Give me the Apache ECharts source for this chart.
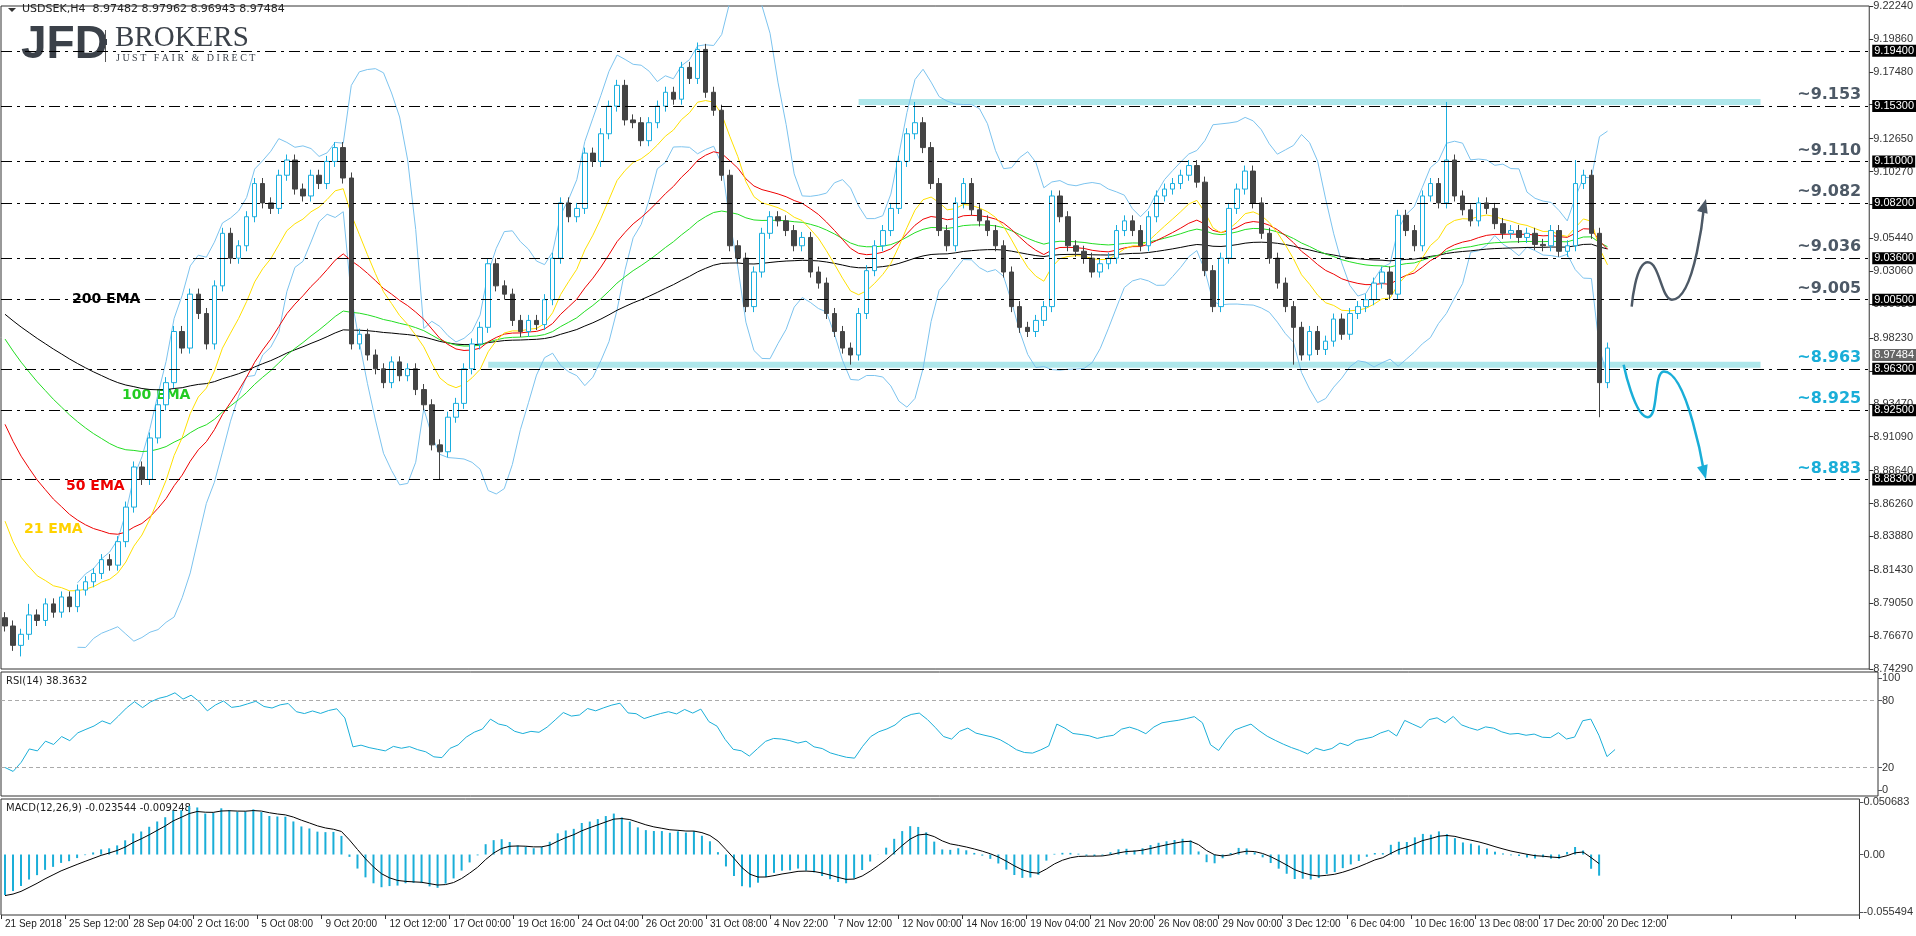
<!DOCTYPE html>
<html><head><meta charset="utf-8">
<script src="https://cdn.jsdelivr.net/npm/echarts@6/dist/echarts.min.js"></script>
<style>html,body{margin:0;padding:0;background:#fff}#c{width:1916px;height:936px}</style>
</head><body><div id="c"></div>
<script>
// ---------- DATA ----------
const xTickLabels = ["21 Sep 2018","25 Sep 12:00","28 Sep 04:00","2 Oct 16:00","5 Oct 08:00","9 Oct 20:00","12 Oct 12:00","17 Oct 00:00","19 Oct 16:00","24 Oct 04:00","26 Oct 20:00","31 Oct 08:00","4 Nov 22:00","7 Nov 12:00","12 Nov 00:00","14 Nov 16:00","19 Nov 04:00","21 Nov 20:00","26 Nov 08:00","29 Nov 00:00","3 Dec 12:00","6 Dec 04:00","10 Dec 16:00","13 Dec 08:00","17 Dec 20:00","20 Dec 12:00"];
const priceTicks = [9.2224,9.1986,9.1748,9.151,9.1265,9.1027,9.0789,9.0544,9.0306,9.0068,8.9823,8.9585,8.9347,8.9109,8.8864,8.8626,8.8388,8.8143,8.7905,8.7667,8.7429];
const closes = [
8.774,8.760,8.768,8.782,8.778,8.790,8.784,8.795,8.788,8.800,
8.806,8.812,8.822,8.818,8.835,8.860,8.889,8.880,8.910,8.934,
8.950,8.987,8.975,9.014,9.000,8.978,9.020,9.058,9.040,9.049,
9.070,9.094,9.080,9.076,9.100,9.111,9.090,9.085,9.100,9.094,
9.110,9.120,9.098,8.978,8.985,8.970,8.960,8.950,8.965,8.955,
8.960,8.945,8.934,8.905,8.900,8.925,8.935,8.960,8.978,8.990,
9.036,9.020,9.014,8.995,8.987,8.995,8.992,9.010,9.040,9.080,
9.070,9.076,9.116,9.110,9.130,9.150,9.165,9.140,9.138,9.125,
9.138,9.150,9.160,9.155,9.178,9.170,9.191,9.160,9.147,9.100,
9.049,9.040,9.005,9.030,9.058,9.070,9.067,9.060,9.049,9.055,
9.030,9.022,9.000,8.987,8.975,8.970,9.000,9.031,9.049,9.060,
9.076,9.110,9.130,9.138,9.120,9.094,9.060,9.049,9.080,9.094,
9.075,9.067,9.060,9.049,9.030,9.005,8.990,8.987,8.995,9.005,
9.085,9.070,9.049,9.045,9.040,9.030,9.036,9.040,9.060,9.067,
9.060,9.049,9.070,9.085,9.090,9.094,9.100,9.107,9.095,9.031,
9.005,9.040,9.076,9.090,9.103,9.080,9.058,9.040,9.022,9.005,
8.990,8.970,8.987,8.974,8.980,8.996,8.985,9.000,9.005,9.010,
9.022,9.030,9.014,9.071,9.060,9.049,9.085,9.094,9.080,9.111,
9.085,9.075,9.067,9.080,9.076,9.065,9.058,9.060,9.055,9.058,
9.050,9.049,9.060,9.045,9.049,9.094,9.100,9.058,8.950,8.975];
const firstOpen = 8.780;
const highSpikes = {3:8.790,42:9.124,86:9.196,113:9.153,179:9.153,195:9.111};
const lowSpikes = {2:8.752,54:8.880,105:8.963,160:8.963,198:8.925};
const emaSeeds = {e21:8.865,e50:8.932,e100:8.990,e200:9.004};
const macdSeeds = {fast:8.772,slow:8.818,signal:-0.040};
const rsiSeeds = {gain:0.0012,loss:0.0048};
const levels = [9.194,9.153,9.110,9.082,9.036,9.005,8.963,8.925,8.883];
const annotated = [{v:9.153,t:"~9.153",c:"#4d5966"},{v:9.110,t:"~9.110",c:"#4d5966"},{v:9.082,t:"~9.082",c:"#4d5966"},{v:9.036,t:"~9.036",c:"#4d5966"},{v:9.005,t:"~9.005",c:"#4d5966"},{v:8.963,t:"~8.963",c:"#1aaed8"},{v:8.925,t:"~8.925",c:"#1aaed8"},{v:8.883,t:"~8.883",c:"#1aaed8"}];
const lastPrice = 8.97484;
const bands = [{from:106,to:218,v:9.153},{from:60,to:218,v:8.963}];
const upArrow = [[202,9.005],[204,9.037],[207,9.010],[211,9.078]];
const downArrow = [[201,8.963],[204,8.925],[206,8.958],[211,8.885]];
const nCats = 232;

// ---------- derived ----------
const cats = Array.from({length:nCats},(_,i)=>i);
const ohlc = closes.map((c,i)=>{
  const o = i===0?firstOpen:closes[i-1];
  let hi = Math.max(o,c)+0.004, lo = Math.min(o,c)-0.004;
  if (highSpikes[i]!==undefined) hi = highSpikes[i];
  if (lowSpikes[i]!==undefined) lo = lowSpikes[i];
  return [o,c,lo,hi];
});
function ema(arr,p,seed){const k=2/(p+1);let e=seed;return arr.map(v=>{e=v*k+e*(1-k);return +e.toFixed(6);});}
const ema21=ema(closes,11,emaSeeds.e21), ema50=ema(closes,25,emaSeeds.e50), ema100=ema(closes,50,emaSeeds.e100), ema200=ema(closes,100,emaSeeds.e200);
const bbU=[],bbL=[];
closes.forEach((c,i)=>{if(i<9){bbU.push(null);bbL.push(null);return;}
  const s=closes.slice(i-9,i+1);const m=s.reduce((a,b)=>a+b)/10;const sd=Math.sqrt(s.reduce((a,b)=>a+(b-m)*(b-m),0)/10);
  bbU.push(+(m+2*sd).toFixed(5));bbL.push(+(m-2*sd).toFixed(5));});
const rsi=[];{let ag=rsiSeeds.gain,al=rsiSeeds.loss;const p=12;for(let i=0;i<closes.length;i++){
  if(i>0){const d=closes[i]-closes[i-1];ag=(ag*(p-1)+Math.max(d,0))/p;al=(al*(p-1)+Math.max(-d,0))/p;}
  rsi.push(+(100-100/(1+ag/al)).toFixed(2));}}
const ef=ema(closes,6,macdSeeds.fast), es=ema(closes,13,macdSeeds.slow);
const macd=closes.map((c,i)=>+(ef[i]-es[i]).toFixed(6));
const sig=ema(macd,5,macdSeeds.signal);

const FONT='DejaVu Sans', LF='Liberation Sans';
const axisBase = (gi,show)=>({type:'category',gridIndex:gi,data:cats,boundaryGap:true,
  axisLine:{show:false,onZero:false},axisTick:{show:show,interval:i=>i%8===0,length:4,lineStyle:{color:'#333'}},
  axisLabel:{show:show,interval:i=>i%8===0,formatter:(v)=>xTickLabels[v/8]||'',align:'left',margin:4,fontSize:10,color:'#222',fontFamily:LF},splitLine:{show:false}});
const gridBase={left:1,right:38,show:true,borderColor:'#333',borderWidth:1};
const boxLabel=(txt,bg)=>({show:true,position:'end',formatter:txt,backgroundColor:bg,color:'#fff',padding:[1,2,0,2],fontSize:11,fontFamily:LF,distance:3});

const lvlData=[];
levels.forEach(v=>lvlData.push({yAxis:v,lineStyle:{color:'#000',type:[11,5,3,5],width:1},label:boxLabel(v.toFixed(5),'#000')}));
annotated.forEach(a=>lvlData.push({yAxis:a.v,lineStyle:{color:'rgba(0,0,0,0)',width:1},
  label:{show:true,position:'insideEndTop',formatter:a.t,color:a.c,fontSize:16,fontWeight:'bold',fontFamily:FONT,distance:[8,3]}}));
lvlData.push({yAxis:lastPrice,lineStyle:{color:'rgba(0,0,0,0)',width:1},label:boxLabel(lastPrice.toFixed(5),'#666')});

const arrowSeries=(pts,color,rot)=>({type:'line',xAxisIndex:0,yAxisIndex:0,data:pts,smooth:0.6,showSymbol:true,showAllSymbol:true,
  lineStyle:{color:color,width:2.5},symbol:(v,p)=>p.dataIndex===pts.length-1?'triangle':'none',symbolSize:[11,14],symbolRotate:rot,itemStyle:{color:color},silent:true,z:5});

const option={
  animation:false,
  grid:[{...gridBase,top:6,height:663},{...gridBase,top:672,height:124},{...gridBase,top:799,height:116}],
  xAxis:[axisBase(0,false),axisBase(1,false),axisBase(2,true)],
  yAxis:[
    {type:'value',gridIndex:0,position:'right',min:8.7429,max:9.2224,scale:true,splitLine:{show:false},axisLine:{show:false},
     axisTick:{show:true,customValues:priceTicks,length:4,lineStyle:{color:'#333'}},
     axisLabel:{customValues:priceTicks,formatter:v=>v.toFixed(5),fontSize:11,color:'#333',margin:4,fontFamily:LF}},
    {type:'value',gridIndex:1,position:'right',min:-5.5,max:105.5,splitLine:{show:false},axisLine:{show:false},
     axisTick:{show:true,customValues:[0,20,80,100],length:4},axisLabel:{customValues:[0,20,80,100],fontSize:11,color:'#333',margin:4,fontFamily:LF}},
    {type:'value',gridIndex:2,position:'right',min:-0.0585,max:0.0537,splitLine:{show:false},axisLine:{show:false},
     axisTick:{show:true,customValues:[-0.055494,0,0.050683],length:4},
     axisLabel:{customValues:[-0.055494,0,0.050683],formatter:v=>v===0?'0.00':v.toFixed(6),fontSize:11,color:'#333',margin:4,fontFamily:LF}}
  ],
  series:[
    {type:'line',data:bbU,symbol:'none',lineStyle:{color:'#7cc3ee',width:1},z:1},
    {type:'line',data:bbL,symbol:'none',lineStyle:{color:'#7cc3ee',width:1},z:1},
    {type:'line',data:ema200,symbol:'none',lineStyle:{color:'#000',width:1},z:2},
    {type:'line',data:ema100,symbol:'none',lineStyle:{color:'#22dd22',width:1},z:2},
    {type:'line',data:ema50,symbol:'none',lineStyle:{color:'#ee0000',width:1},z:2},
    {type:'line',data:ema21,symbol:'none',lineStyle:{color:'#ffe000',width:1},z:2},
    {type:'candlestick',data:ohlc,barWidth:5,z:3,
     itemStyle:{color:'#ffffff',color0:'#444',borderColor:'#1aaedf',borderColor0:'#444',borderWidth:1},
     markLine:{symbol:'none',silent:true,animation:false,data:lvlData},
     markArea:{silent:true,itemStyle:{color:'rgba(120,215,222,0.6)'},data:bands.map(b=>[{xAxis:b.from,yAxis:b.v-0.0022},{xAxis:b.to,yAxis:b.v+0.0022}])}},
    arrowSeries(upArrow,'#4d5966',-15),
    arrowSeries(downArrow,'#1aaed8',195),
    {type:'line',xAxisIndex:1,yAxisIndex:1,data:rsi,symbol:'none',lineStyle:{color:'#1aaed8',width:1},
     markLine:{symbol:'none',silent:true,label:{show:false},lineStyle:{color:'#aaa',type:[4,3],width:1},data:[{yAxis:80},{yAxis:20}]}},
    {type:'bar',xAxisIndex:2,yAxisIndex:2,data:macd,barWidth:2,itemStyle:{color:'#1aaed8'}},
    {type:'line',xAxisIndex:2,yAxisIndex:2,data:sig,symbol:'none',lineStyle:{color:'#000',width:1}}
  ],
  graphic:[
    {type:'polygon',shape:{points:[[8,8],[16,8],[12,12]]},style:{fill:'#333'}},
    {type:'text',left:22,top:4,style:{text:'USDSEK,H4  8.97482 8.97962 8.96943 8.97484',fontSize:11,fill:'#222',fontFamily:FONT}},
    {type:'text',left:21,top:22,style:{text:'JFD',fontSize:46,fontWeight:'bold',fill:'#3b4149',fontFamily:LF}},
    {type:'rect',shape:{x:105,y:30,width:1,height:32},style:{fill:'#555'}},
    {type:'rect',shape:{x:104,y:39,width:3,height:6},style:{fill:'#3b4149'}},
    {type:'text',left:115,top:24,style:{text:'BROKERS',fontSize:29,fill:'#3b4149',fontFamily:'Liberation Serif'}},
    {type:'text',left:116,top:53,style:{text:'J U S T   F A I R   &   D I R E C T',fontSize:10,fill:'#3b4149',fontFamily:'Liberation Serif'}},
    {type:'text',left:72,top:292,style:{text:'200 EMA',fontSize:14,fontWeight:'bold',fill:'#000',fontFamily:FONT}},
    {type:'text',left:122,top:388,style:{text:'100 EMA',fontSize:14,fontWeight:'bold',fill:'#22cc22',fontFamily:FONT}},
    {type:'text',left:66,top:479,style:{text:'50 EMA',fontSize:14,fontWeight:'bold',fill:'#ee0000',fontFamily:FONT}},
    {type:'text',left:24,top:522,style:{text:'21 EMA',fontSize:14,fontWeight:'bold',fill:'#ffd200',fontFamily:FONT}},
    {type:'text',left:6,top:676,style:{text:'RSI(14) 38.3632',fontSize:10,fill:'#222',fontFamily:FONT}},
    {type:'text',left:6,top:803,style:{text:'MACD(12,26,9) -0.023544 -0.009248',fontSize:10,fill:'#222',fontFamily:FONT}}
  ]
};
const chart=echarts.init(document.getElementById('c'));
chart.setOption(option);
</script></body></html>
